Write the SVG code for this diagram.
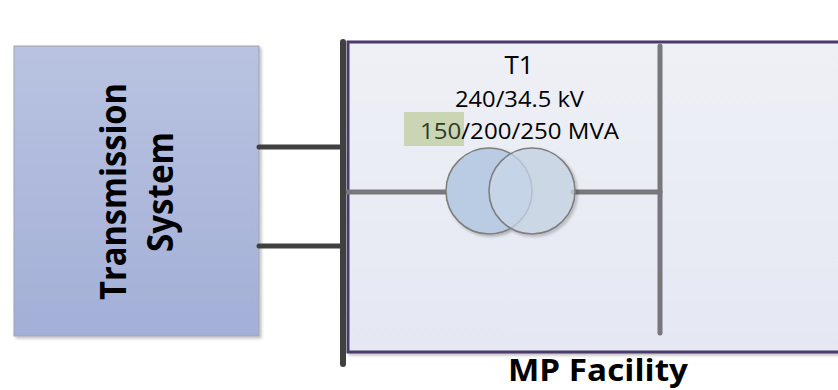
<svg xmlns="http://www.w3.org/2000/svg" width="838" height="390" viewBox="0 0 838 390">
<defs>
<linearGradient id="gTS" x1="0" y1="0" x2="0" y2="1"><stop offset="0" stop-color="#b9c3e1"/><stop offset="1" stop-color="#a3afd7"/></linearGradient>
<linearGradient id="gMP" x1="0" y1="0" x2="0" y2="1"><stop offset="0" stop-color="#eef0f5"/><stop offset="1" stop-color="#e5e8f3"/></linearGradient>
<filter id="sh" x="-10%" y="-10%" width="130%" height="130%"><feGaussianBlur in="SourceAlpha" stdDeviation="1.5"/><feOffset dx="2" dy="2"/><feComponentTransfer><feFuncA type="linear" slope="0.25"/></feComponentTransfer><feMerge><feMergeNode/><feMergeNode in="SourceGraphic"/></feMerge></filter>
<style>
.lbl{font-family:"Open Sans","Liberation Sans",sans-serif;fill:#000}
.big{font-family:"Open Sans","Liberation Sans",sans-serif;font-weight:bold;fill:#000}
.dark{stroke:#404040;stroke-width:5;stroke-linecap:round;fill:none}
.gray{stroke:#77777c;stroke-width:5;stroke-linecap:round;fill:none}
.coil{stroke:#7f7f7f;stroke-width:1.6}
</style>
</defs>
<rect width="838" height="390" fill="#fff"/>
<g id="transmission-system">
<rect x="14" y="46" width="245" height="290" fill="url(#gTS)" stroke="#9ea3b0" stroke-width="1" filter="url(#sh)"/>
<text class="big" font-size="35" text-anchor="middle" transform="translate(126,191.5) rotate(-90)" textLength="217" lengthAdjust="spacingAndGlyphs">Transmission</text>
<text class="big" font-size="35" text-anchor="middle" transform="translate(173,192) rotate(-90)" textLength="120" lengthAdjust="spacingAndGlyphs">System</text>
</g>
<g id="mp-facility">
<rect x="348" y="42" width="500" height="310" fill="url(#gMP)" stroke="#4b3a6b" stroke-width="3" filter="url(#sh)"/>
<text class="big" x="598" y="381" font-size="31" text-anchor="middle" textLength="180" lengthAdjust="spacingAndGlyphs">MP Facility</text>
</g>
<g id="connectors">
<line class="dark" x1="259" y1="147" x2="343" y2="147"/>
<line class="dark" x1="259" y1="246" x2="343" y2="246"/>
<line class="gray" x1="348" y1="192" x2="447" y2="192" stroke-linecap="butt"/>
<line class="gray" x1="573" y1="192" x2="660" y2="192" stroke-linecap="butt"/>
</g>
<g id="bus-main">
<line x1="343" y1="42" x2="343" y2="364" stroke="#404040" stroke-width="6" stroke-linecap="round"/>
</g>
<g id="bus-mv">
<line class="gray" x1="660" y1="46" x2="660" y2="333"/>
</g>
<g id="T1">
<rect x="404" y="112" width="60" height="34" fill="#c9d5b3"/>
<text class="lbl" x="519" y="74" font-size="26" text-anchor="middle">T1</text>
<text class="lbl" x="519.5" y="107" font-size="22" text-anchor="middle" textLength="129" lengthAdjust="spacingAndGlyphs">240/34.5 kV</text>
<text class="lbl" x="420" y="139" font-size="22" textLength="199" lengthAdjust="spacingAndGlyphs"><tspan fill="#333a2a">150</tspan>/200/250 MVA</text>
<g filter="url(#sh)">
<circle class="coil" cx="489" cy="191" r="43" fill="#b9cce3"/>
<circle class="coil" cx="532" cy="191" r="43" fill="#c9d7e8" fill-opacity="0.75"/>
</g>
</g>
</svg>
